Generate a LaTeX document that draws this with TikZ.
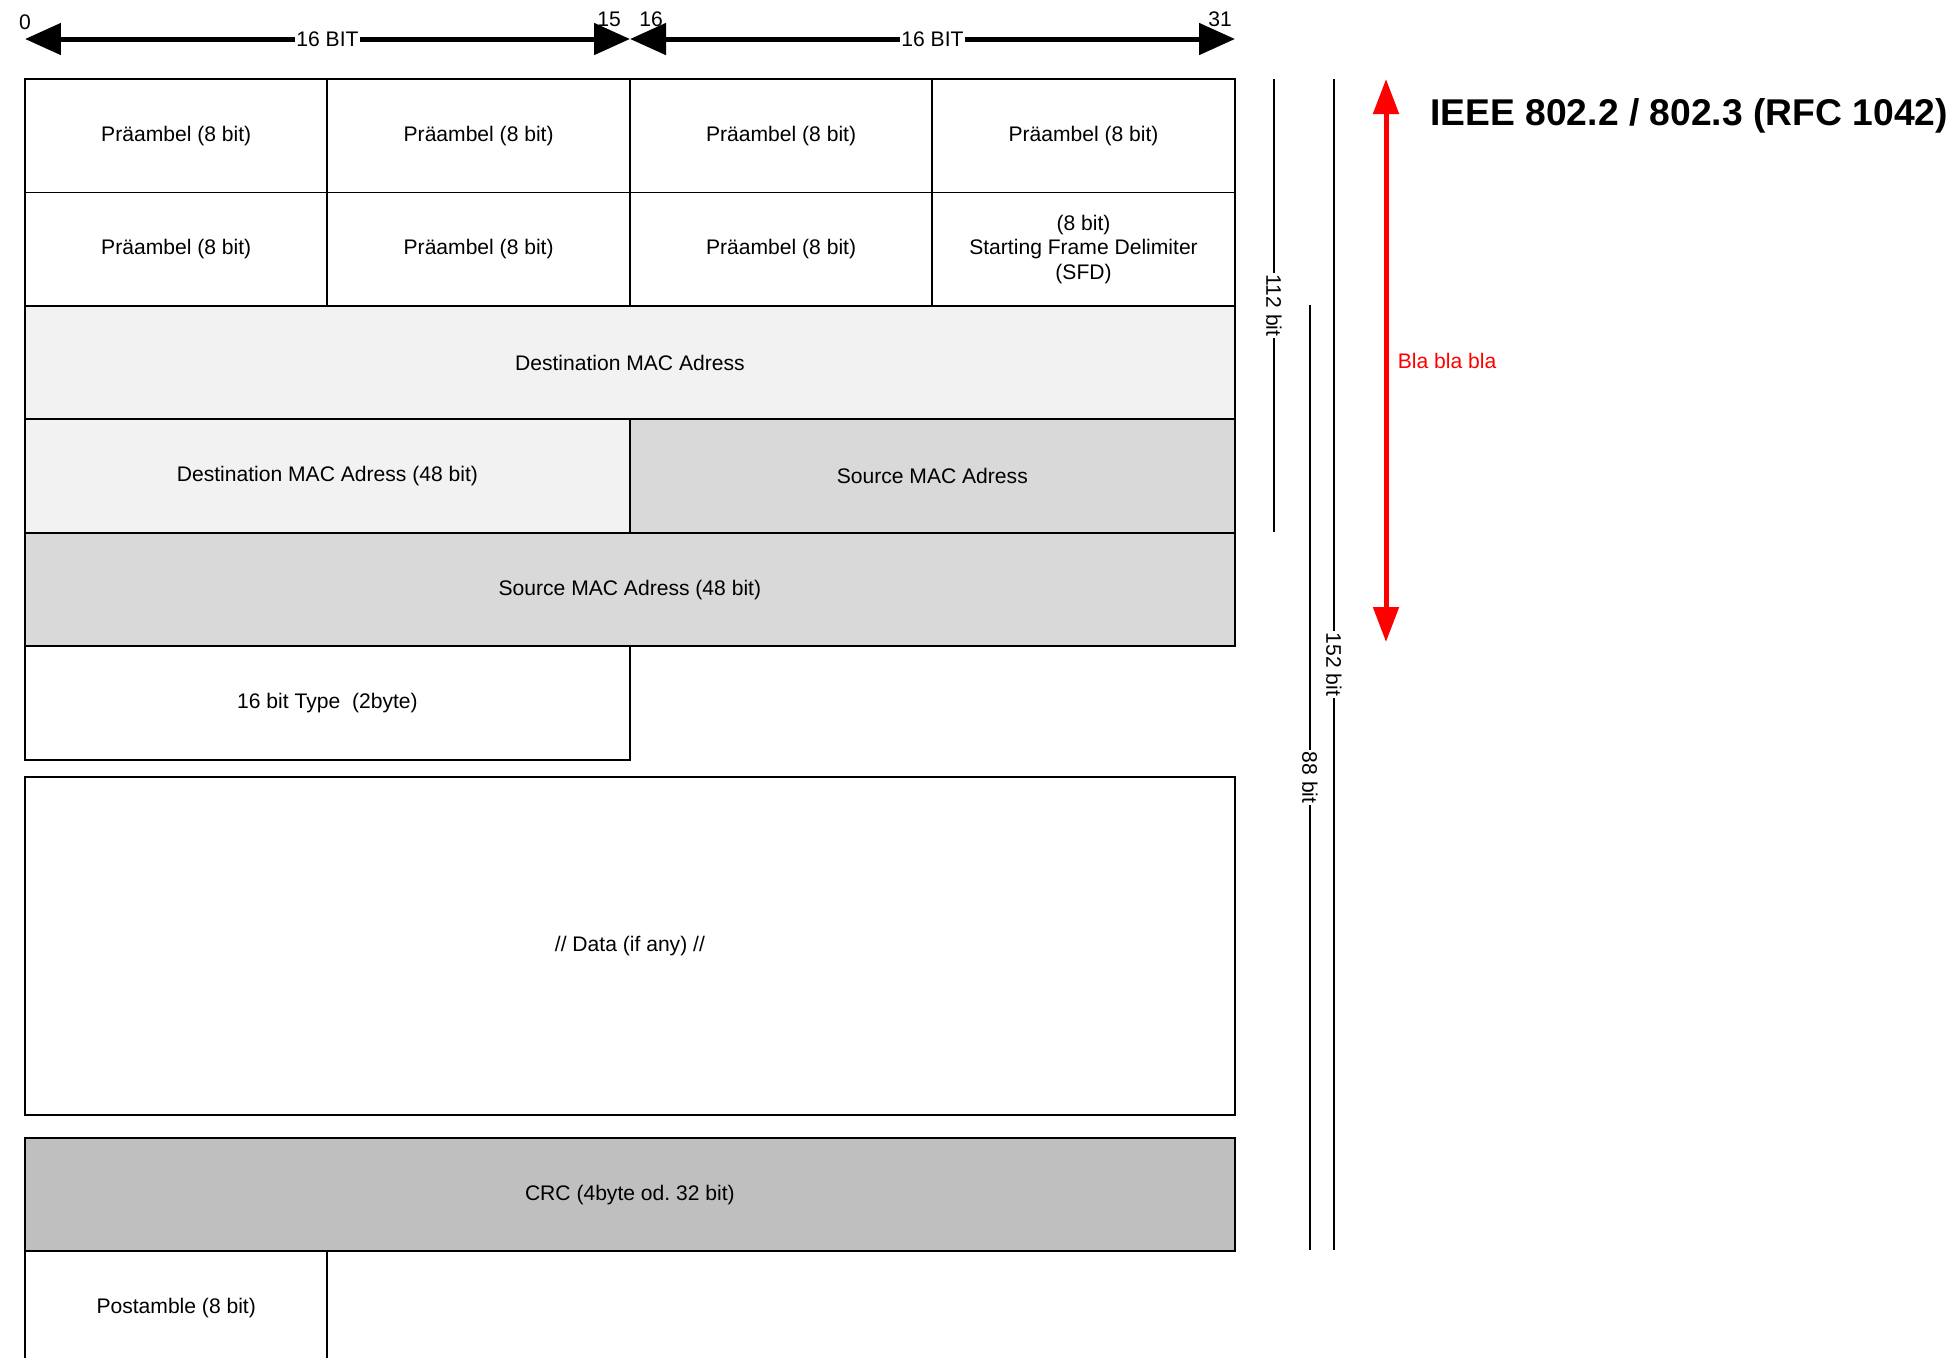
\documentclass[tikz,border=0pt]{standalone}
\usepackage{fontspec}
\setmainfont{Liberation Sans}
\usetikzlibrary{arrows.meta,positioning}
\definecolor{dstgray}{HTML}{F2F2F2}
\definecolor{srcgray}{HTML}{D9D9D9}
\definecolor{crcgray}{HTML}{BFBFBF}

\begin{document}
\begin{tikzpicture}[x=0.02cm, y=-0.02cm, font=\fontsize{12}{14}\selectfont, node distance=0pt,
  field/.style={draw, line width=1.1pt, outer sep=0pt, inner sep=0pt, align=center, minimum width=6.05cm, minimum height=2.27cm},
  half/.style={field, minimum width=12.1cm}, full/.style={field, minimum width=24.2cm},
  span/.style={line width=0.85pt}, spanlabel/.style={fill=white, rotate=-90, inner sep=1pt},
  bits/.style={line width=2.85pt, {Triangle[length=0.72cm, width=0.62cm]}-{Triangle[length=0.72cm, width=0.62cm]}},
  hint/.style={line width=2.85pt, red, {Triangle[length=0.7cm, width=0.5cm]}-{Triangle[length=0.7cm, width=0.5cm]}}]
\useasboundingbox (0,0) rectangle (1960,1357);
\node[field, anchor=north west] (pre1) at (25,79) {Präambel (8 bit)};
\node[field, right=of pre1] (pre2) {Präambel (8 bit)};
\node[field, right=of pre2] (pre3) {Präambel (8 bit)};
\node[field, right=of pre3] (pre4) {Präambel (8 bit)};
\node[field, below=of pre1] (pre5) {Präambel (8 bit)};
\node[field, right=of pre5] (pre6) {Präambel (8 bit)};
\node[field, right=of pre6] (pre7) {Präambel (8 bit)};
\node[field, right=of pre7] (sfd) {(8 bit)\\Starting Frame Delimiter\\(SFD)};
\node[full, fill=dstgray, below=of pre5.south west, anchor=north west] (dst) {Destination MAC Adress};
\node[half, fill=dstgray, below=of dst.south west, anchor=north west] (dstb) {Destination MAC Adress (48 bit)};
\node[half, fill=srcgray, right=of dstb] (src) {Source MAC Adress};
\node[full, fill=srcgray, below=of dstb.south west, anchor=north west] (srcb) {Source MAC Adress (48 bit)};
\node[half, below=of srcb.south west, anchor=north west] (type) {16 bit Type\ \ (2byte)};
\node[full, minimum height=6.76cm, below=0.34cm of type.south west, anchor=north west] (data) {// Data (if any) //};
\node[full, fill=crcgray, below=0.46cm of data.south west, anchor=north west] (crc) {CRC (4byte od.\ 32 bit)};
\node[field, below=of crc.south west, anchor=north west] (post) {Postamble (8 bit)};
\coordinate (b0) at (25,39); \coordinate (b15) at (630,39); \coordinate (b31) at (1235,39);
\draw[bits] (b0)--node[fill=white, inner sep=1pt] (lo) {16 BIT}(b15); \draw[bits] (b15)--node[fill=white, inner sep=1pt] (hi) {16 BIT}(b31);
\node (n0) at (25,22) {0}; \node (n15) at (609,19) {15}; \node (n16) at (651,19) {16}; \node (n31) at (1220,19) {31};
\coordinate (s112a) at (1274,79); \coordinate (s112b) at (1274,532);
\coordinate (s88a) at (1310,305); \coordinate (s88b) at (1310,1250);
\coordinate (s152a) at (1334,79); \coordinate (s152b) at (1334,1250);
\draw[span] (s112a)--node[spanlabel] (l112) {112 bit}(s112b); \draw[span] (s88a)--node[spanlabel] (l88) {88 bit}(s88b); \draw[span] (s152a)--node[spanlabel] (l152) {152 bit}(s152b);
\coordinate (ha) at (1386,79); \coordinate (hb) at (1386,642);
\draw[hint] (ha)--node[right, xshift=2pt, red] (bla) {Bla bla bla}(hb);
\node[anchor=west, inner sep=0pt, font=\fontsize{21.2}{25}\selectfont\bfseries] (title) at (1430,116) {IEEE 802.2 / 802.3 (RFC 1042)};
\end{tikzpicture}
\end{document}
